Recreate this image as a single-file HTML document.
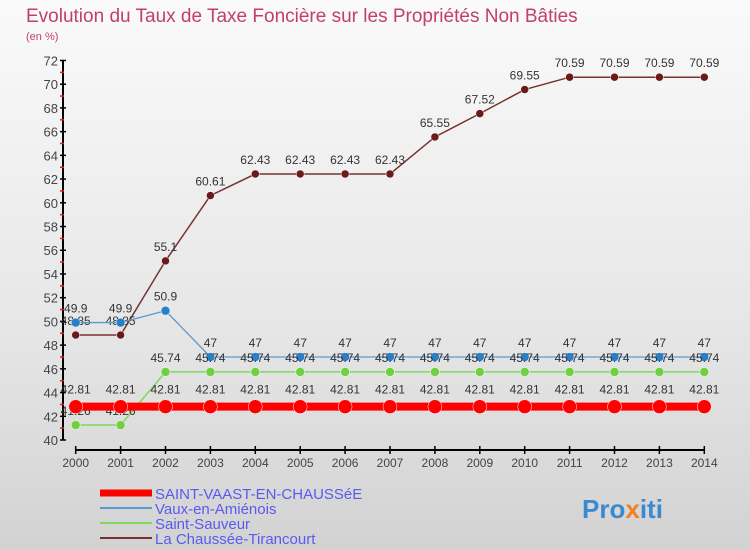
<!DOCTYPE html>
<html><head><meta charset="utf-8"><style>
body{margin:0}
#c{width:750px;height:550px;position:relative;overflow:hidden;background:linear-gradient(#fafafa,#e6e6e6 60%,#d2d2d2);font-family:"Liberation Sans",sans-serif}
svg{position:absolute;left:0;top:0}
</style></head><body>
<div id="c">
<svg id="s" width="750" height="550">
<text x="26" y="22" font-size="19" fill="#c0406a">Evolution du Taux de Taxe Foncière sur les Propriétés Non Bâties</text>
<text x="26" y="40" font-size="11" fill="#c0406a">(en %)</text>
<g id="g"></g>
<text x="582" y="518" font-size="26" font-weight="bold" fill="#3a8ad0">Pro<tspan fill="#f08020">x</tspan>iti</text>
</svg>
</div>
<script>
const years=[2000,2001,2002,2003,2004,2005,2006,2007,2008,2009,2010,2011,2012,2013,2014];
const yTicks=[40,42,44,46,48,50,52,54,56,58,60,62,64,66,68,70,72];
const sSaint=[42.81,42.81,42.81,42.81,42.81,42.81,42.81,42.81,42.81,42.81,42.81,42.81,42.81,42.81,42.81];
const sVaux=[49.9,49.9,50.9,47,47,47,47,47,47,47,47,47,47,47,47];
const sSauveur=[41.26,41.26,45.74,45.74,45.74,45.74,45.74,45.74,45.74,45.74,45.74,45.74,45.74,45.74,45.74];
const sChaussee=[48.85,48.85,55.1,60.61,62.43,62.43,62.43,62.43,65.55,67.52,69.55,70.59,70.59,70.59,70.59];
const names=["SAINT-VAAST-EN-CHAUSSéE","Vaux-en-Amiénois","Saint-Sauveur","La Chaussée-Tirancourt"];
const NS="http://www.w3.org/2000/svg";
const g=document.getElementById('g');
const X=i=>75.7+i*44.9;
const Y=v=>440-(v-40)*11.86;
function el(t,a,p){const e=document.createElementNS(NS,t);for(const k in a)e.setAttribute(k,a[k]);(p||g).appendChild(e);return e;}
let ax=el('line',{x1:63,y1:Y(72),x2:63,y2:440,stroke:'#000','stroke-width':2});


let xa=el('line',{x1:X(0),y1:450,x2:X(14),y2:450,stroke:'#000','stroke-width':2});


yTicks.forEach(v=>{
  el('line',{x1:60,y1:Y(v),x2:66,y2:Y(v),stroke:'#000','stroke-width':1.5});
  if(v<72) el('line',{x1:60,y1:Y(v+1),x2:64,y2:Y(v+1),stroke:'#e02020','stroke-width':1.5});
  const t=el('text',{x:58,y:Y(v)+5,'font-size':13,fill:'#444','text-anchor':'end'});
  t.textContent=v;
  
  
});
years.forEach((yr,i)=>{
  el('line',{x1:X(i),y1:446,x2:X(i),y2:454,stroke:'#000','stroke-width':1.5});
  const t=el('text',{x:X(i),y:467,'font-size':12,fill:'#444','text-anchor':'middle'});
  t.textContent=yr;
  
  
});
function series(data,color,lw,r,fill,name,lblOff){
  const line=el('polyline',{points:data.map((v,i)=>X(i)+','+Y(v)).join(' '),fill:'none',stroke:color,'stroke-width':lw});
  
  
  data.forEach((v,i)=>{
    const c=el('circle',{cx:X(i),cy:Y(v),r:r,fill:fill,stroke:'#fff','stroke-width':0.5});
    
    
    const t=el('text',{x:X(i),y:Y(v)+lblOff,'font-size':12,fill:'#333','text-anchor':'middle'});
    t.textContent=String(v);
    
    
  });
}
series(sChaussee,'#7a3030',1.5,4,'#6a1a1a','chaussee',-10);
series(sVaux,'#5a9ad0',1.3,4.5,'#2a80c8','vaux',-10);
series(sSauveur,'#80d860',1.5,4.5,'#70d040','sauveur',-10);
series(sSaint,'#ff0000',8,7,'#ff0000','saint-vaast',-13);
const lc=['#ff0000','#5a9ad0','#80d860','#7a3030'],lw=[7,2,2,2];
names.forEach((n,i)=>{
  const y=493+i*15;
  const l=el('line',{x1:100,y1:y,x2:152,y2:y,stroke:lc[i],'stroke-width':lw[i]});
  
  
  const t=el('text',{x:155,y:y+6,'font-size':15,fill:'#5a5af0'});
  t.textContent=n;
  
  
});
</script>
</body></html>
